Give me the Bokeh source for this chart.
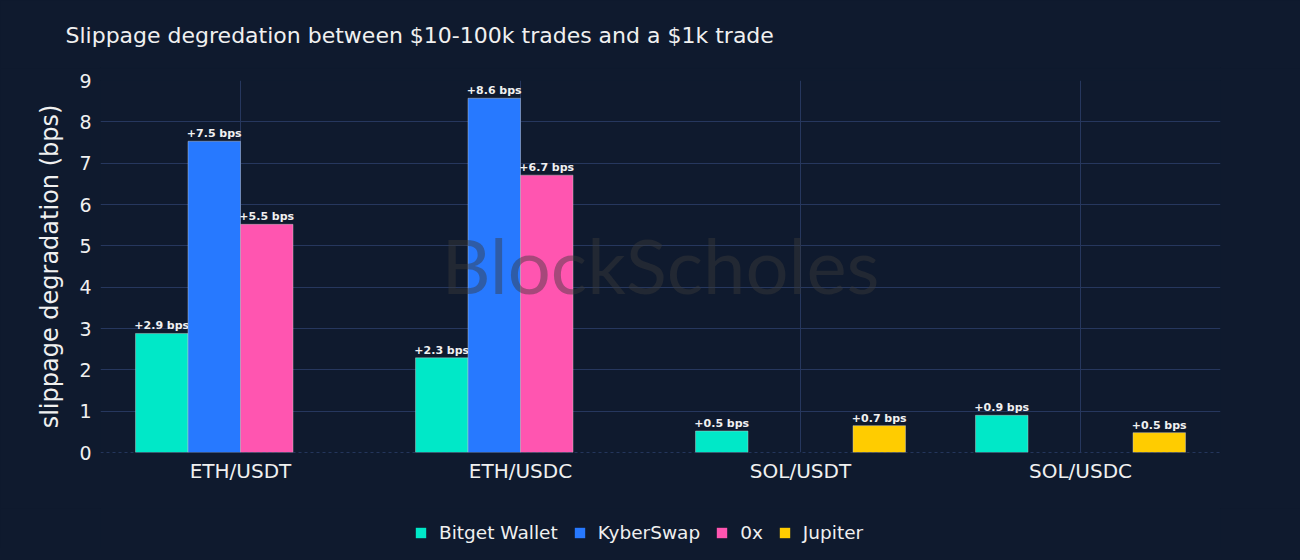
from bokeh.plotting import figure
from bokeh.layouts import column
from bokeh.models import (ColumnDataSource, FactorRange, Range1d, Legend, LegendItem,
                          Label, SingleIntervalTicker, FixedTicker, Span)
from bokeh.transform import dodge
from bokeh.core.properties import value
from bokeh.embed import file_html
from bokeh.resources import INLINE

# ---- data ----
title_text = "Slippage degredation between $10-100k trades and a $1k trade"
pairs = ["ETH/USDT", "ETH/USDC", "SOL/USDT", "SOL/USDC"]
series_names = ["Bitget Wallet", "KyberSwap", "0x", "Jupiter"]
bitget = [2.88, 2.29, 0.52, 0.90]
kyber = [7.53, 8.57, None, None]
zerox = [5.52, 6.71, None, None]
jupiter = [None, None, 0.65, 0.48]
series_values = [bitget, kyber, zerox, jupiter]
colors = ["#00E8C8", "#2779FF", "#FF55B0", "#FFCC00"]

BG = "#0F1A2E"
GRID = "#26375E"
TXT = "#F0F0F0"
FONT = "DejaVu Sans"
NAN = float("nan")

group_width = 0.75
bar_w = group_width / len(series_names)
offsets = [(-group_width / 2 + bar_w * (i + 0.5)) for i in range(len(series_names))]


def strip(height, top=0):
    f = figure(width=1300, height=height, output_backend="svg", toolbar_location=None,
               x_range=Range1d(0, 1), y_range=Range1d(0, 1),
               background_fill_color=BG, border_fill_color=BG, outline_line_color=None,
               min_border_left=0, min_border_right=0, min_border_top=top,
               min_border_bottom=0)
    f.axis.visible = False
    f.grid.visible = False
    return f


# title strip (its frame lines up with the main frame, title offset to the left)
TITLE_H = 68
tf = strip(TITLE_H, top=66)
tf.title.text = title_text
tf.title.text_font = FONT
tf.title.text_font_size = "22px"
tf.title.text_font_style = "normal"
tf.title.text_color = TXT
tf.title.align = "left"
tf.title.offset = -35
tf.title.standoff = 40

p = figure(width=1300, height=508 - TITLE_H, x_range=FactorRange(factors=pairs),
           y_range=Range1d(0, 9), output_backend="svg", toolbar_location=None,
           background_fill_color=BG, border_fill_color=BG, outline_line_color=None,
           min_border_left=100, min_border_right=80, min_border_top=80 - TITLE_H,
           min_border_bottom=56)

# axes
p.yaxis.ticker = SingleIntervalTicker(interval=1)
p.yaxis.axis_label = "slippage degradation (bps)"
p.yaxis.axis_label_text_font = FONT
p.yaxis.axis_label_text_font_size = "24px"
p.yaxis.axis_label_text_font_style = "normal"
p.yaxis.axis_label_text_color = TXT
p.yaxis.axis_label_standoff = 12
for ax in (p.xaxis, p.yaxis):
    ax.major_label_text_font = FONT
    ax.major_label_text_color = TXT
    ax.axis_line_color = None
    ax.major_tick_line_color = None
    ax.minor_tick_line_color = None
    ax.major_tick_out = 0
    ax.major_tick_in = 0
p.yaxis.major_label_text_font_size = "19px"
p.yaxis.major_label_standoff = 5
p.xaxis.major_label_text_font_size = "20px"
p.xaxis.major_label_standoff = 6

p.ygrid.ticker = FixedTicker(ticks=[1, 2, 3, 4, 5, 6, 7, 8, 9])
p.ygrid.grid_line_color = GRID
p.xgrid.grid_line_color = GRID

p.add_layout(Span(location=0, dimension="width", line_color="#3A5088",
                  line_dash="3 3", line_width=1))

# legend strip
lg = strip(40)

items = []
for name, vals, col, off in zip(series_names, series_values, colors, offsets):
    xs = [c for c, v in zip(pairs, vals) if v is not None]
    ys = [v for v in vals if v is not None]
    labels = ["+%.1f bps" % v for v in ys]
    src = ColumnDataSource(data=dict(x=xs, top=ys, label=labels))
    p.vbar(x=dodge("x", off, range=p.x_range), top="top", width=bar_w, source=src,
           fill_color=col, line_color="#C8C8C8", line_alpha=0.45, line_width=1)
    p.text(x=dodge("x", off, range=p.x_range), y="top", text="label", source=src,
           text_align="center", text_baseline="bottom", y_offset=-1,
           text_font=value(FONT), text_font_size="11px", text_font_style="bold",
           text_color=TXT)
    # legend proxy (nothing drawn in the strip itself)
    lr = lg.quad(left=[NAN], right=[NAN], top=[NAN], bottom=[NAN],
                 fill_color=col, line_color=None)
    items.append(LegendItem(label=name, renderers=[lr]))

# watermark
p.add_layout(Label(x=2.0, y=4.55, text="BlockScholes", text_align="center",
                   text_baseline="middle", text_font="Lato", text_font_size="76px",
                   text_color="#3A3A3A", text_alpha=0.45, level="overlay"))

legend = Legend(items=items, orientation="horizontal", location=(314, 5),
                label_text_font=FONT, label_text_font_size="18.5px", label_text_color=TXT,
                glyph_width=13, glyph_height=13, label_standoff=12, spacing=15,
                background_fill_alpha=0, border_line_color=None, margin=0, padding=4)
lg.add_layout(legend, "center")

layout = column(tf, p, lg, spacing=0)

html = file_html(layout, INLINE)
html = html.replace("</head>",
                    "<style>html,body{background-color:%s !important;}</style></head>" % BG, 1)
open("out.html", "w").write(html)
